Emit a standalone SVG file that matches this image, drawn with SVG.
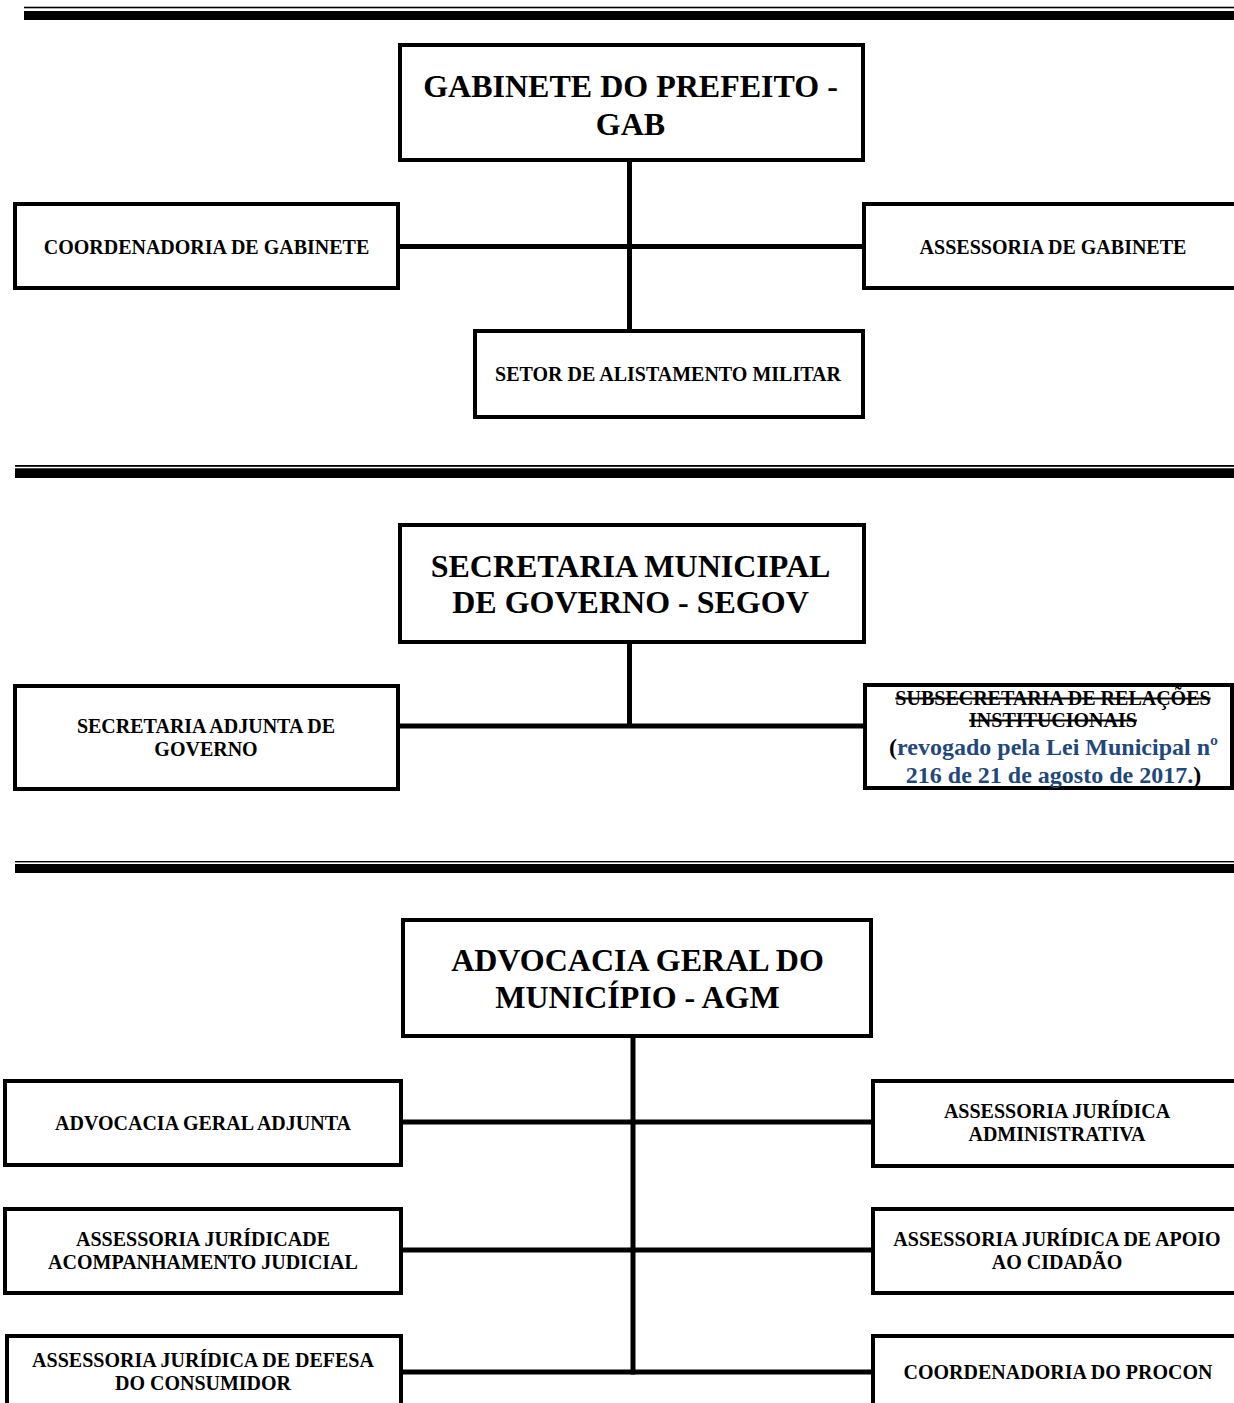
<svg xmlns="http://www.w3.org/2000/svg" width="1234" height="1403" viewBox="0 0 1234 1403">
<style>
.box{fill:#fff;stroke:#000;stroke-width:4}
.rule{fill:#000}
.conn{stroke:#000;stroke-width:5;fill:none}
.t{font-family:"Liberation Serif","Times New Roman",serif;font-weight:bold;fill:#000;text-anchor:middle}
.big{font-size:32px}
.sm{font-size:20px}
.blue{font-size:24px;fill:#1F497D}
.strike{text-decoration:line-through}
</style>
<rect width="1234" height="1403" fill="#fff"/>
<g id="rules">
<rect class="rule" x="24" y="6.7" width="1210" height="1.6"/>
<rect class="rule" x="24" y="11" width="1210" height="9"/>
<rect class="rule" x="15" y="465" width="1219" height="1.8"/>
<rect class="rule" x="15" y="468.3" width="1219" height="9.7"/>
<rect class="rule" x="15" y="861" width="1219" height="1.4"/>
<rect class="rule" x="15" y="864" width="1219" height="9"/>
</g>
<g id="connectors">
<line class="conn" x1="629.5" y1="162" x2="629.5" y2="331"/>
<line class="conn" x1="400" y1="246.5" x2="864" y2="246.5"/>
<line class="conn" x1="629.5" y1="643" x2="629.5" y2="728"/>
<line class="conn" x1="400" y1="726" x2="865" y2="726"/>
<line class="conn" x1="633" y1="1037" x2="633" y2="1374.5"/>
<line class="conn" x1="403" y1="1122" x2="872" y2="1122"/>
<line class="conn" x1="403" y1="1250" x2="872" y2="1250"/>
<line class="conn" x1="403" y1="1372" x2="872" y2="1372"/>
</g>
<g id="gab">
<rect class="box" x="400" y="45" width="463" height="115"/>
<text class="t big" x="630.5" y="97">GABINETE DO PREFEITO -</text>
<text class="t big" x="630.5" y="135">GAB</text>
</g>
<g id="coord-gabinete">
<rect class="box" x="15" y="204" width="383" height="84"/>
<text class="t sm" x="206.5" y="253.5">COORDENADORIA DE GABINETE</text>
</g>
<g id="assessoria-gabinete">
<rect class="box" x="864" y="204" width="380" height="84"/>
<text class="t sm" x="1053" y="253.5">ASSESSORIA DE GABINETE</text>
</g>
<g id="setor-alistamento">
<rect class="box" x="475" y="331" width="388" height="86"/>
<text class="t sm" x="668" y="380.5">SETOR DE ALISTAMENTO MILITAR</text>
</g>
<g id="segov">
<rect class="box" x="400" y="525" width="464" height="117"/>
<text class="t big" x="630.5" y="577">SECRETARIA MUNICIPAL</text>
<text class="t big" x="630.5" y="613">DE GOVERNO - SEGOV</text>
</g>
<g id="sec-adjunta">
<rect class="box" x="15" y="686" width="383" height="103"/>
<text class="t sm" x="206" y="732.5">SECRETARIA ADJUNTA DE</text>
<text class="t sm" x="206" y="755.5">GOVERNO</text>
</g>
<g id="subsecretaria">
<rect class="box" x="865" y="685" width="367" height="103"/>
<text class="t sm strike" x="1053" y="704.5">SUBSECRETARIA DE RELAÇÕES</text>
<text class="t sm strike" x="1053" y="726.5">INSTITUCIONAIS</text>
<text class="t blue" x="1053.5" y="755"><tspan fill="#000">(</tspan>revogado pela Lei Municipal nº</text>
<text class="t blue" x="1053.5" y="783">216 de 21 de agosto de 2017.<tspan fill="#000">)</tspan></text>
</g>
<g id="agm">
<rect class="box" x="403" y="920" width="468" height="116"/>
<text class="t big" x="637.5" y="971">ADVOCACIA GERAL DO</text>
<text class="t big" x="637.5" y="1008">MUNICÍPIO - AGM</text>
</g>
<g id="adv-adjunta">
<rect class="box" x="5" y="1081" width="396" height="84"/>
<text class="t sm" x="203" y="1129.5">ADVOCACIA GERAL ADJUNTA</text>
</g>
<g id="aj-acompanhamento">
<rect class="box" x="5" y="1209" width="396" height="84"/>
<text class="t sm" x="203" y="1245.5">ASSESSORIA JURÍDICADE</text>
<text class="t sm" x="203" y="1268.5">ACOMPANHAMENTO JUDICIAL</text>
</g>
<g id="aj-consumidor">
<rect class="box" x="7" y="1336" width="394" height="90"/>
<text class="t sm" x="203" y="1366.5">ASSESSORIA JURÍDICA DE DEFESA</text>
<text class="t sm" x="203" y="1389.5">DO CONSUMIDOR</text>
</g>
<g id="aj-administrativa">
<rect class="box" x="873" y="1081" width="380" height="85"/>
<text class="t sm" x="1057" y="1117.5">ASSESSORIA JURÍDICA</text>
<text class="t sm" x="1057" y="1140.5">ADMINISTRATIVA</text>
</g>
<g id="aj-cidadao">
<rect class="box" x="873" y="1209" width="380" height="84"/>
<text class="t sm" x="1057" y="1245.5">ASSESSORIA JURÍDICA DE APOIO</text>
<text class="t sm" x="1057" y="1268.5">AO CIDADÃO</text>
</g>
<g id="procon">
<rect class="box" x="873" y="1336" width="380" height="90"/>
<text class="t sm" x="1058" y="1378.5">COORDENADORIA DO PROCON</text>
</g>
</svg>
